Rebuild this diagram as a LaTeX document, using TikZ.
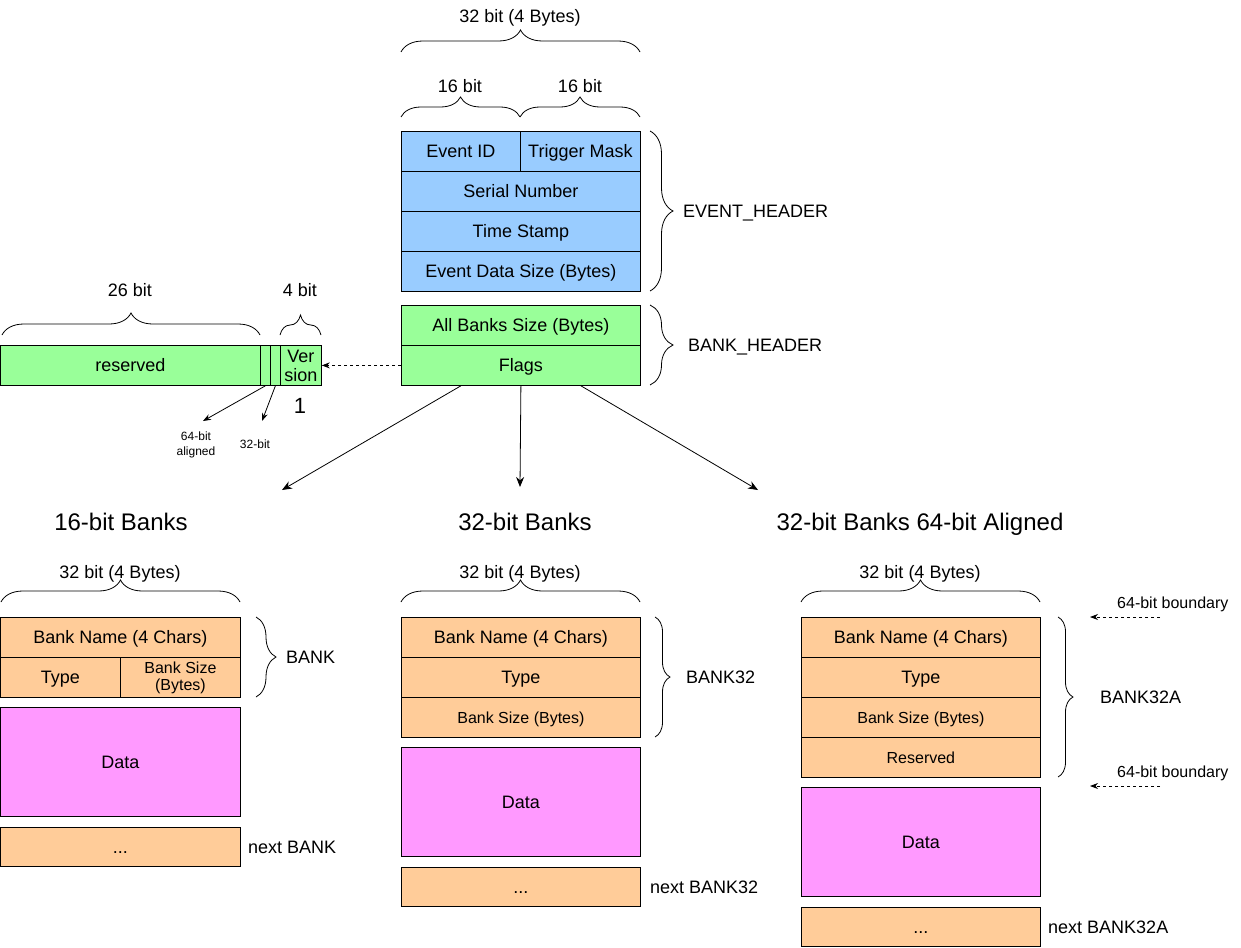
\documentclass[tikz,border=0pt]{standalone}
\usepackage{fontspec}
\setmainfont{Liberation Sans}
\usetikzlibrary{positioning}
\usetikzlibrary{arrows.meta}
\usetikzlibrary{decorations.pathreplacing}

\definecolor{hdrblue}{HTML}{99CCFF}
\definecolor{hdrgreen}{HTML}{99FF99}
\definecolor{bankorange}{HTML}{FFCC99}
\definecolor{datapink}{HTML}{FF99FF}

\newcommand{\txtmain}{\fontsize{18}{20}\selectfont}
\newcommand{\txtsmall}{\fontsize{16}{19}\selectfont}
\newcommand{\txttiny}{\fontsize{12}{15}\selectfont}
\newcommand{\txttitle}{\fontsize{24}{28}\selectfont}

\tikzset{
  cellbox/.style 2 args={draw, line width=0.8pt, inner sep=0pt, anchor=north west,
    minimum width=#1pt, minimum height=#2pt, align=center, font=\txtmain},
  cell/.style 2 args={cellbox={#1}{#2}, text height=13pt, text depth=0pt},
  smalltext/.style={font=\txtsmall, text height=11.5pt},
  lblbox/.style={inner sep=0pt, align=center, font=\txtmain},
  lbl/.style={lblbox, text height=13pt, text depth=0pt},
  titletext/.style={font=\txttitle, text height=17.2pt},
  bracetop/.style={decorate, line width=0.8pt,
    decoration={brace, amplitude=#1pt}},
  bracetop/.default=22,
  arrowline/.style={line width=0.8pt, -{Stealth[length=10pt,width=8pt]}},
  dasharrow/.style={line width=0.8pt, dash pattern=on 3pt off 3pt,
    -{Stealth[length=8pt,width=6pt]}},
}

\begin{document}
\begin{tikzpicture}[x=1pt,y=-1pt]
\useasboundingbox (0,0) rectangle (1241,947);

% event header
\node[lbl] (wordtop) at (520,16) {32 bit (4 Bytes)};
\draw[bracetop] (401,52) -- (640,52);
\node[lbl] (halfa) at (460,86) {16 bit};
\node[lbl] (halfb) at (580,86) {16 bit};
\draw[bracetop=20] (401,117) -- (520,117);
\draw[bracetop=20] (520,117) -- (640,117);
\node[cell={119}{40}, fill=hdrblue] (evid) at (401,131) {Event ID};
\node[cell={120}{40}, fill=hdrblue] (trig) at (520,131) {Trigger Mask};
\node[cell={239}{40}, fill=hdrblue] (serial) at (401,171) {Serial Number};
\node[cell={239}{40}, fill=hdrblue] (stamp) at (401,211) {Time Stamp};
\node[cell={239}{40}, fill=hdrblue] (evsize) at (401,251) {Event Data Size (Bytes)};
\draw[bracetop=23] (650,131) -- (650,291);
\node[lbl, anchor=west] (evhdr) at (683,211) {EVENT\_HEADER};

% bank header
\node[cell={239}{40}, fill=hdrgreen] (allsize) at (401,305) {All Banks Size (Bytes)};
\node[cell={239}{40}, fill=hdrgreen] (flags) at (401,345) {Flags};
\draw[bracetop=23] (650,305) -- (650,385);
\node[lbl, anchor=west] (bkhdr) at (688,345) {BANK\_HEADER};

% flags word
\node[lbl] (bits26) at (130,290) {26 bit};
\node[lbl] (bits4) at (300,290) {4 bit};
\draw[bracetop] (2,335) -- (260,335);
\draw[bracetop=20] (280,335) -- (321,335);
\node[cell={260}{40}, fill=hdrgreen] (resv) at (0,345) {reserved};
\node[cell={10}{40}, fill=hdrgreen] (bit64) at (260,345) {};
\node[cell={10}{40}, fill=hdrgreen] (bit32) at (270,345) {};
\node[cellbox={41}{40}, fill=hdrgreen] (vers) at (280,345) {Ver\\[-1pt]sion};
\node[lbl, font=\fontsize{22}{26}\selectfont, text height=15.8pt] (verone) at (300,406) {1};
\draw[dasharrow] (flags.west) -- (vers.east);
\coordinate (tip64) at (203,421);
\coordinate (tip32) at (262,421);
\draw[line width=0.8pt, -{Stealth[length=8pt,width=6pt]}] (bit64.south) -- (tip64);
\draw[line width=0.8pt, -{Stealth[length=8pt,width=6pt]}] (bit32.south) -- (tip32);
\node[lblbox, font=\txttiny] (lbl64) at (196,445) {64-bit\\aligned};
\node[lbl, font=\txttiny, text height=8.6pt] (lbl32) at (255,444) {32-bit};

% flags to bank types
\coordinate (to16) at (282,490);
\coordinate (to32) at (520,487);
\coordinate (to32a) at (758,490);
\draw[arrowline] ([xshift=-60pt]flags.south) -- (to16);
\draw[arrowline] (flags.south) -- (to32);
\draw[arrowline] ([xshift=60pt]flags.south) -- (to32a);
\node[lbl, titletext] (title16) at (121,522) {16-bit Banks};
\node[lbl, titletext] (title32) at (525,522) {32-bit Banks};
\node[lbl, titletext] (title32a) at (920,522) {32-bit Banks 64-bit Aligned};

% 16-bit banks
\node[lbl] (word16) at (120,572) {32 bit (4 Bytes)};
\draw[bracetop] (1,602) -- (240,602);
\node[cell={240}{40}, fill=bankorange] (name16) at (0,617) {Bank Name (4 Chars)};
\node[cell={120}{40}, fill=bankorange] (type16) at (0,657) {Type};
\node[cellbox={120}{40}, fill=bankorange, font=\txtsmall] (size16) at (120,657) {Bank Size\\[-2pt](Bytes)};
\node[cell={240}{109}, fill=datapink] (data16) at (0,707) {Data};
\node[cell={240}{39}, fill=bankorange] (next16) at (0,827) {...};
\draw[bracetop=20] (256,617) -- (256,697);
\node[lbl, anchor=west] (bank16) at (286,657) {BANK};
\node[lbl, anchor=west] (nextlbl16) at (248,847) {next BANK};

% 32-bit banks
\node[lbl] (word32) at (520,572) {32 bit (4 Bytes)};
\draw[bracetop] (401,602) -- (640,602);
\node[cell={239}{40}, fill=bankorange] (name32) at (401,617) {Bank Name (4 Chars)};
\node[cell={239}{40}, fill=bankorange] (type32) at (401,657) {Type};
\node[cell={239}{40}, fill=bankorange, smalltext] (size32) at (401,697) {Bank Size (Bytes)};
\node[cell={239}{109}, fill=datapink] (data32) at (401,747) {Data};
\node[cell={239}{39}, fill=bankorange] (next32) at (401,867) {...};
\draw[bracetop=15] (655,617) -- (655,737);
\node[lbl, anchor=west] (bank32) at (686,677) {BANK32};
\node[lbl, anchor=west] (nextlbl32) at (650,887) {next BANK32};

% 32-bit banks, 64-bit aligned
\node[lbl] (word32a) at (920,572) {32 bit (4 Bytes)};
\draw[bracetop] (801,602) -- (1040,602);
\node[cell={239}{40}, fill=bankorange] (name32a) at (801,617) {Bank Name (4 Chars)};
\node[cell={239}{40}, fill=bankorange] (type32a) at (801,657) {Type};
\node[cell={239}{40}, fill=bankorange, smalltext] (size32a) at (801,697) {Bank Size (Bytes)};
\node[cell={239}{40}, fill=bankorange, smalltext] (resv32a) at (801,737) {Reserved};
\node[cell={239}{109}, fill=datapink] (data32a) at (801,787) {Data};
\node[cell={239}{39}, fill=bankorange] (next32a) at (801,907) {...};
\draw[bracetop=15] (1058,617) -- (1058,777);
\node[lbl, anchor=west] (bank32a) at (1100,697) {BANK32A};
\node[lbl, anchor=west] (nextlbl32a) at (1048,927) {next BANK32A};
\node[lbl, anchor=west, smalltext] (bound1) at (1117,603) {64-bit boundary};
\node[lbl, anchor=west, smalltext] (bound2) at (1117,772) {64-bit boundary};
\coordinate (bfrom1) at (1160,617);
\coordinate (bto1) at (1090,617);
\coordinate (bfrom2) at (1160,786);
\coordinate (bto2) at (1090,786);
\draw[dasharrow] (bfrom1) -- (bto1);
\draw[dasharrow] (bfrom2) -- (bto2);
\end{tikzpicture}
\end{document}
